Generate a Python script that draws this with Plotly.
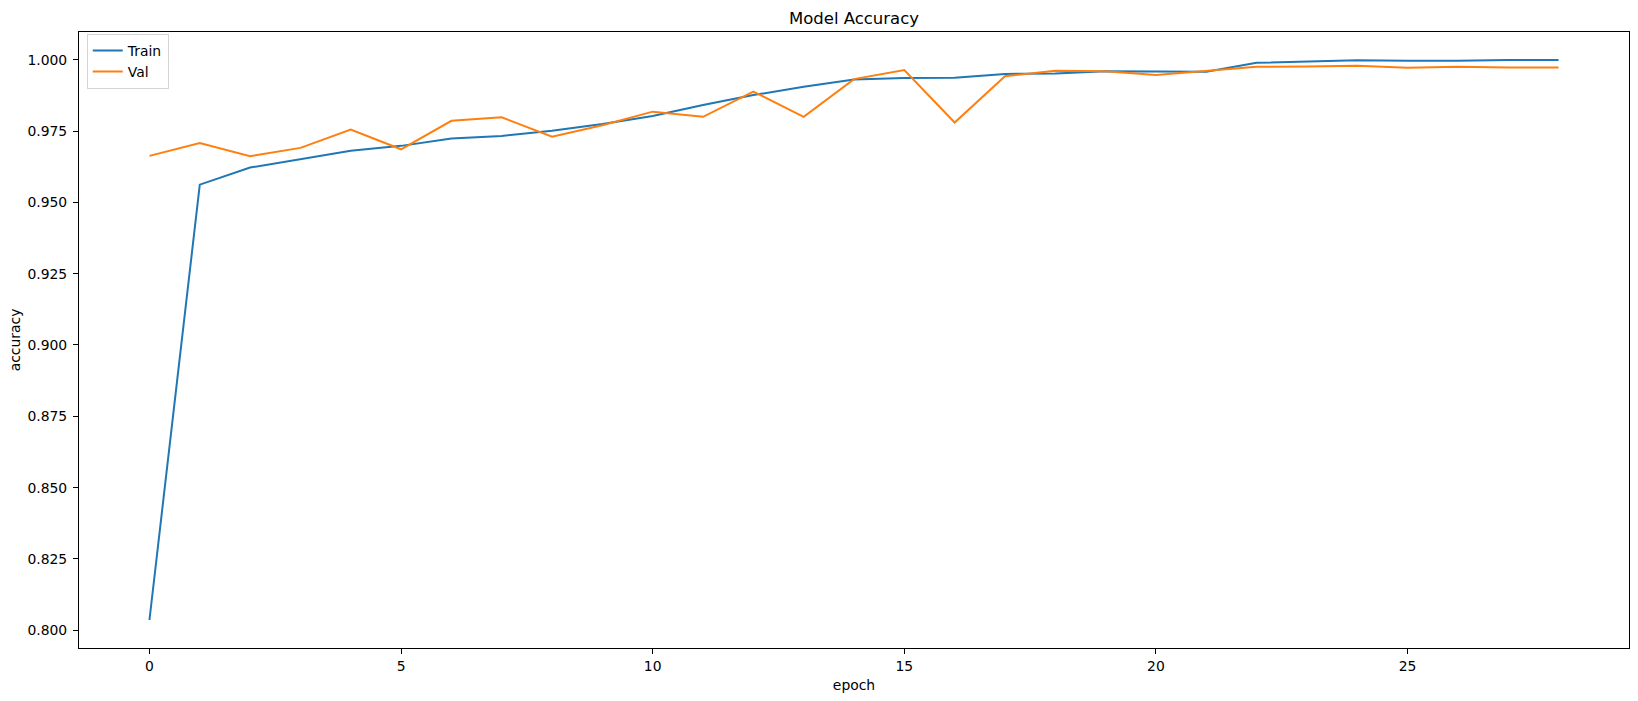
import plotly.graph_objects as go

epochs = list(range(29))
train_acc = [0.8036, 0.9562, 0.9622, 0.9651, 0.9681, 0.9698, 0.9724, 0.9733, 0.9751, 0.9775,
             0.9803, 0.9841, 0.9876, 0.9905, 0.9931, 0.9936, 0.9937, 0.9950, 0.9952, 0.9960,
             0.9959, 0.9958, 0.9989, 0.9994, 0.9998, 0.9996, 0.9996, 0.9999, 0.9999]
val_acc = [0.9663, 0.9708, 0.9662, 0.9691, 0.9755, 0.9686, 0.9786, 0.9798, 0.9730, 0.9770,
           0.9818, 0.9800, 0.9888, 0.9800, 0.9932, 0.9964, 0.9780, 0.9942, 0.9961, 0.9960,
           0.9946, 0.9961, 0.9975, 0.9976, 0.9979, 0.9972, 0.9975, 0.9973, 0.9973]
series_names = ["Train", "Val"]
colors = ["#1f77b4", "#ff7f0e"]

font_family = "DejaVu Sans, Liberation Sans, sans-serif"

fig = go.Figure()
for name, vals, c in zip(series_names, [train_acc, val_acc], colors):
    fig.add_trace(go.Scatter(x=epochs, y=vals, mode="lines", name=name,
                             line=dict(color=c, width=2)))

axis_common = dict(showline=True, linecolor="black", linewidth=1.1, mirror=True,
                   showgrid=False, zeroline=False, ticks="outside", ticklen=5,
                   tickwidth=1.1, tickcolor="black",
                   tickfont=dict(family=font_family, size=13.9, color="black"))

xmin, xmax = min(epochs), max(epochs)
ymin, ymax = min(train_acc + val_acc), max(train_acc + val_acc)
xpad = 0.05 * (xmax - xmin)
ypad = 0.05 * (ymax - ymin)

fig.update_layout(
    width=1638, height=701, autosize=False,
    margin=dict(l=79, r=9, t=32, b=53),
    paper_bgcolor="white", plot_bgcolor="white",
    font=dict(family=font_family, size=13.9, color="black"),
    title=dict(text="Model Accuracy", x=0.5, xref="paper", y=1 - 17.8 / 701,
               yref="container", xanchor="center", yanchor="middle",
               font=dict(family=font_family, size=16.5, color="black")),
    xaxis=dict(range=[xmin - xpad, xmax + xpad], tick0=0, dtick=5,
               title=dict(text="epoch", standoff=7,
                          font=dict(family=font_family, size=13.9, color="black")),
               **axis_common),
    yaxis=dict(range=[ymin - ypad, ymax + ypad], tick0=0.8, dtick=0.025,
               tickformat=".3f", ticklabelstandoff=3,
               title=dict(text="accuracy", standoff=3,
                          font=dict(family=font_family, size=13.9, color="black")),
               **axis_common),
    legend=dict(x=0.005, y=0.997, xanchor="left", yanchor="top",
                bgcolor="rgba(255,255,255,0.8)", bordercolor="#d5d5d5", borderwidth=1,
                font=dict(family=font_family, size=13.9, color="black"),
                itemwidth=30, tracegroupgap=0),
    showlegend=True,
)

fig.write_html("out.html")
